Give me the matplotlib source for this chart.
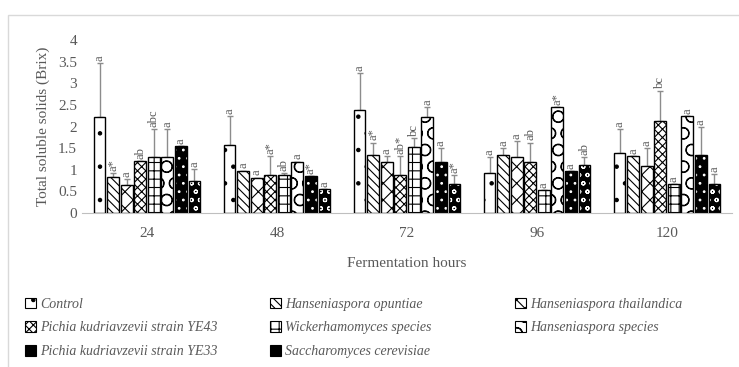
import matplotlib

matplotlib.use("Agg")
import matplotlib.pyplot as plt
import numpy as np
from matplotlib.patches import Patch, Rectangle

plt.rcParams["font.family"] = ["Liberation Serif", "DejaVu Serif"]
plt.rcParams["hatch.linewidth"] = 0.8

hours = ["24", "48", "72", "96", "120"]
series = ["Control", "Hanseniaspora opuntiae", "Hanseniaspora thailandica",
          "Pichia kudriavzevii strain YE43", "Wickerhamomyces species",
          "Hanseniaspora species", "Pichia kudriavzevii strain YE33",
          "Saccharomyces cerevisiae"]

# mean Brix per series, one value per fermentation hour
control = [2.22, 1.57, 2.38, 0.93, 1.38]
h_opuntiae = [0.84, 0.98, 1.33, 1.33, 1.32]
h_thailandica = [0.65, 0.82, 1.18, 1.29, 1.09]
p_ye43 = [1.21, 0.88, 0.88, 1.19, 2.13]
wicker = [1.29, 0.88, 1.52, 0.53, 0.67]
h_species = [1.29, 1.19, 2.23, 2.44, 2.24]
p_ye33 = [1.55, 0.86, 1.19, 0.96, 1.34]
s_cerevisiae = [0.75, 0.55, 0.67, 1.10, 0.67]

err_control = [1.24, 0.67, 0.85, 0.36, 0.56]
err_opuntiae = [0.09, 0.0, 0.30, 0.17, 0.0]
err_thailandica = [0.14, 0.0, 0.14, 0.38, 0.41]
err_ye43 = [0.0, 0.44, 0.44, 0.44, 0.70]
err_wicker = [0.65, 0.05, 0.21, 0.0, 0.0]
err_species = [0.65, 0.0, 0.21, 0.0, 0.0]
err_ye33 = [0.0, 0.0, 0.31, 0.0, 0.64]
err_cerevisiae = [0.27, 0.0, 0.21, 0.20, 0.23]

lbl_control = ["a", "a", "a", "a", "a"]
lbl_opuntiae = ["a*", "a", "a*", "a", "a"]
lbl_thailandica = ["a", "a", "a", "a", "a"]
lbl_ye43 = ["ab", "a*", "ab*", "ab", "bc"]
lbl_wicker = ["abc", "ab", "bc", "a", "a"]
lbl_species = ["a", "a", "a", "a*", "a"]
lbl_ye33 = ["a", "a*", "a", "a", "a"]
lbl_cerevisiae = ["a", "a", "a*", "ab", "a"]

values = [control, h_opuntiae, h_thailandica, p_ye43, wicker, h_species, p_ye33, s_cerevisiae]
errors = [err_control, err_opuntiae, err_thailandica, err_ye43, err_wicker, err_species,
          err_ye33, err_cerevisiae]
letters = [lbl_control, lbl_opuntiae, lbl_thailandica, lbl_ye43, lbl_wicker, lbl_species,
           lbl_ye33, lbl_cerevisiae]

# (face, hatch colour, hatch)
styles = [("white", "black", "."),
          ("white", "black", "\\\\\\\\"),
          ("white", "black", "xx"),
          ("white", "black", "xxxx"),
          ("white", "black", "++"),
          ("white", "black", "O"),
          ("black", "white", ".."),
          ("black", "white", "oo")]

fig = plt.figure(figsize=(7.39, 3.67), dpi=100)
fig.patches.append(Rectangle((8 / 739, -0.1), 1.2, 1 - 15 / 367 + 0.1, transform=fig.transFigure,
                             fill=False, edgecolor="#d9d9d9", lw=1.0))
ax = fig.add_axes([82 / 739, 1 - 213 / 367, 650 / 739, 173 / 367])

x = np.arange(len(hours))
step = 0.104
for i, (vals, errs, lbls, (face, hc, hatch)) in enumerate(zip(values, errors, letters, styles)):
    pos = x + (i - 3.5) * step
    ax.bar(pos, vals, width=step * 0.86, color=face, edgecolor=hc, hatch=hatch, lw=0, zorder=2)
    ax.bar(pos, vals, width=step * 0.86, fill=False, edgecolor="black", lw=1.0, zorder=3)
    ax.errorbar(pos, vals, yerr=[np.zeros(len(errs)), errs], fmt="none", ecolor="#8c8c8c",
                elinewidth=1.0, capsize=2.5, capthick=1.0, zorder=1)
    for p, v, e, t in zip(pos, vals, errs, lbls):
        ax.text(p, v + e + 0.05, t, rotation=90, ha="center", va="bottom", fontsize=9,
                color="#595959")

ax.set_xlim(-0.5, 4.5)
ax.set_ylim(0, 4)
ax.set_yticks(np.arange(0, 4.01, 0.5))
ax.set_yticklabels(["0", "0.5", "1", "1.5", "2", "2.5", "3", "3.5", "4"])
ax.set_xticks(x)
ax.set_xticklabels(hours)
ax.tick_params(axis="both", length=0, labelsize=11, colors="#595959")
ax.tick_params(axis="x", pad=10)
for s in ["top", "right", "left"]:
    ax.spines[s].set_visible(False)
ax.spines["bottom"].set_color("#bfbfbf")
ax.set_ylabel("Total soluble solids (Brix)", fontsize=11, color="#595959", labelpad=6)
ax.set_xlabel("Fermentation hours", fontsize=11, color="#595959", labelpad=12)

handles = [Patch(facecolor=f, edgecolor="black", hatch=h, lw=0.8) for f, c, h in styles]
columns = [[0, 3, 6], [1, 4, 7], [2, 5]]
col_x = [22, 267, 512]
for cx, idx in zip(col_x, columns):
    leg = fig.legend([handles[k] for k in idx], [series[k] for k in idx], ncol=1,
                     loc="upper left", bbox_to_anchor=(cx / 739, 1 - 295 / 367), frameon=False,
                     prop={"style": "italic", "size": 10}, handlelength=0.8, handleheight=0.8,
                     handletextpad=0.3, labelspacing=0.75, borderaxespad=0, borderpad=0.2)
    for t in leg.get_texts():
        t.set_color("#595959")

fig.savefig("out.png", dpi=100)
